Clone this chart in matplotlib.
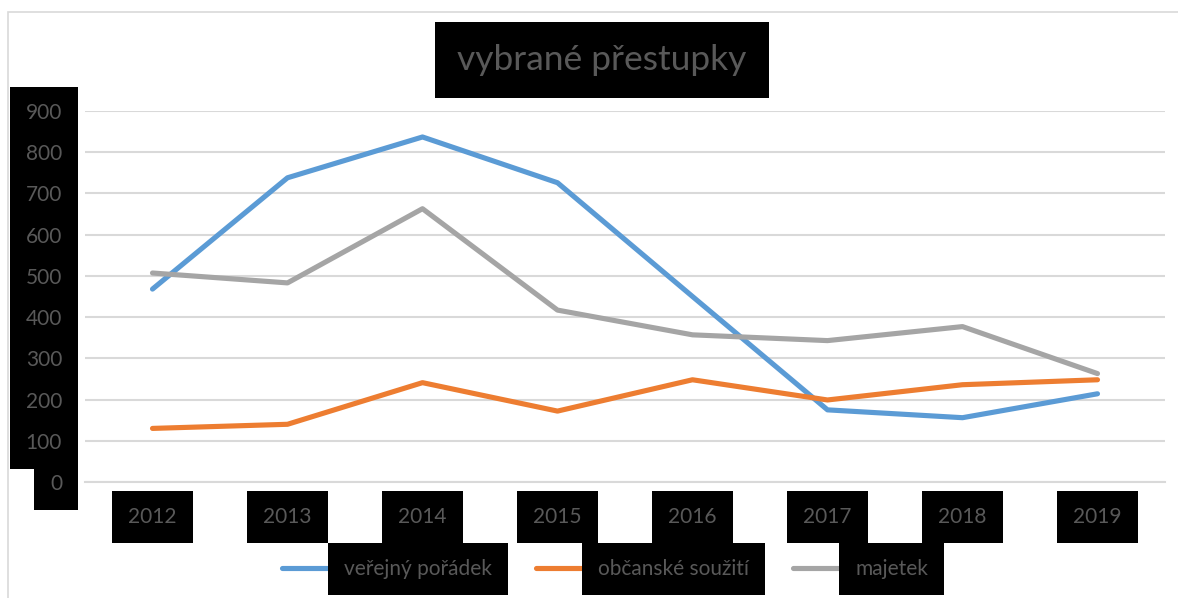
import matplotlib.pyplot as plt
import matplotlib.patches as mpatches
import numpy as np

plt.rcParams['font.family'] = ['Lato', 'DejaVu Sans']

years = ['2012', '2013', '2014', '2015', '2016', '2017', '2018', '2019']
verejny_poradek = [468, 738, 837, 726, 450, 175, 156, 214]
obcanske_souziti = [130, 140, 241, 172, 248, 199, 236, 248]
majetek = [507, 483, 663, 417, 357, 343, 377, 263]
series_names = ['veřejný pořádek', 'občanské soužití', 'majetek']
colors = ['#5B9BD5', '#ED7D31', '#A5A5A5']
text_col = '#595959'
grid_col = '#D9D9D9'

W, H = 1178, 598
fig = plt.figure(figsize=(W / 100, H / 100), dpi=100)
ax = fig.add_axes([85 / W, 1 - 482 / H, 1080 / W, 371 / H])

# outer chart border
fig.patches.append(mpatches.Rectangle((8 / W, -0.1), 2, 1.1 - 12 / H,
                                      transform=fig.transFigure,
                                      fill=False, edgecolor=grid_col, lw=1.2))

x = np.arange(len(years))
for vals, name, c in zip([verejny_poradek, obcanske_souziti, majetek], series_names, colors):
    ax.plot(x, vals, color=c, lw=3.7, solid_capstyle='round', solid_joinstyle='round',
            label=name, zorder=3)

ax.set_xlim(-0.5, len(years) - 0.5)
ax.set_ylim(0, 900)
ax.set_yticks(np.arange(0, 1000, 100))
ax.set_xticks(x)
ax.set_xticklabels(years)
ax.grid(axis='y', color=grid_col, lw=1.5)
ax.set_axisbelow(True)
for s in ['top', 'right', 'left']:
    ax.spines[s].set_visible(False)
ax.spines['bottom'].set_color(grid_col)
ax.spines['bottom'].set_linewidth(1.5)

box = dict(facecolor='black', edgecolor='none', pad=11.5)
ax.tick_params(axis='y', length=0, pad=16.5, labelsize=15, labelcolor=text_col)
ax.tick_params(axis='x', length=0, pad=18, labelsize=15, labelcolor=text_col)
for lab in ax.get_yticklabels() + ax.get_xticklabels():
    lab.set_bbox(box)

fig.text(602 / W, 1 - 60 / H, 'vybrané přestupky', ha='center', va='center',
         fontsize=25.5, color=text_col,
         bbox=dict(facecolor='black', edgecolor='none', pad=16))

leg = fig.legend(loc='center', bbox_to_anchor=(0.5136, 1 - 569 / H), ncol=3,
                 frameon=False, fontsize=15, handlelength=2.2, handletextpad=0.8,
                 columnspacing=2.1)
for t in leg.get_texts():
    t.set_color(text_col)
    t.set_bbox(box)

fig.savefig('out.png', dpi=100)
